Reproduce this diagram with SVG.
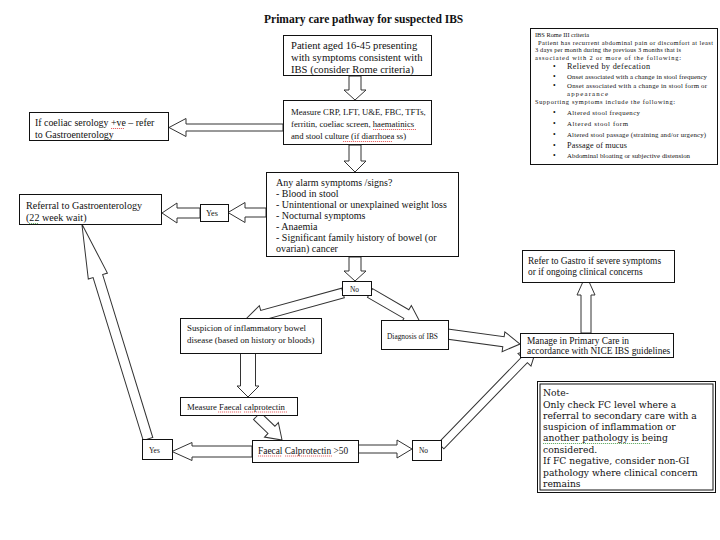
<svg xmlns="http://www.w3.org/2000/svg" width="720" height="540" viewBox="0 0 720 540">
<style>
text{font-family:"Liberation Serif","Times New Roman",serif;fill:#111;}
.title{font-size:11.5px;font-weight:bold;}
.b1{font-size:10.6px;}
.b2{font-size:8.7px;}
.b3{font-size:9.9px;}
.al{font-size:10px;}
.rf{font-size:10.1px;}
.t9{font-size:9.4px;}
.t89{font-size:8.9px;}
.t87{font-size:8.7px;}
.t8{font-size:8.2px;}
.t7{font-size:7.4px;}
.c6{font-size:6.4px;}
.c7{font-size:6.8px;}
.c8{font-size:8.2px;}
.bu{font-size:7.5px;}
.nt{font-family:"DejaVu Serif","Liberation Serif",serif;font-size:9.2px;}
.box{fill:#fff;stroke:#111;stroke-width:1;}
.edge{fill:none;stroke:#111;stroke-width:1;}
.arr{fill:#fff;stroke:#333;stroke-width:1;stroke-linejoin:miter;}
.sp{fill:none;stroke:#d22;stroke-width:0.7;stroke-dasharray:1.2 0.8;}
.sg{fill:none;stroke:#2a8a2a;stroke-width:0.7;stroke-dasharray:1.2 0.8;}
</style>
<rect width="720" height="540" fill="#fff"/>
<text class="title" x="264" y="23">Primary care pathway for suspected IBS</text>

<g id="connectors">
<path class="arr" transform="translate(355,76) rotate(90)" d="M0,-6 H14 V-11 L24,0 L14,11 V6 H0 Z"/>
<path class="arr" transform="translate(283,127.5) rotate(180)" d="M0,-3.5 H97 V-9 L114,0 L97,9 V3.5 H0 Z"/>
<path class="arr" transform="translate(355,145) rotate(90)" d="M0,-6 H16 V-11 L27,0 L16,11 V6 H0 Z"/>
<path class="arr" transform="translate(266,212.5) rotate(180)" d="M0,-4.5 H21 V-10 L38,0 L21,10 V4.5 H0 Z"/>
<path class="arr" transform="translate(200,213) rotate(180)" d="M0,-5 H23 V-10 L38,0 L23,10 V5 H0 Z"/>
<path class="arr" transform="translate(355,257) rotate(90)" d="M0,-6 H14 V-11 L24,0 L14,11 V6 H0 Z"/>
<path class="arr" transform="translate(343,293) rotate(164.6)" d="M0,-5 H84 V-10 L101.7,0 L84,10 V5 H0 Z"/>
<path class="arr" transform="translate(370,293) rotate(30.1)" d="M0,-5 H42 V-10 L57.8,0 L42,10 V5 H0 Z"/>
<path class="arr" transform="translate(447,334) rotate(7.8)" d="M0,-5 H57 V-10 L73.7,0 L57,10 V5 H0 Z"/>
<path class="arr" transform="translate(586,333) rotate(-90)" d="M0,-5 H38 V-9 L58,0 L38,9 V5 H0 Z"/>
<path class="arr" transform="translate(248,353) rotate(90)" d="M0,-7.5 H33 V-11 L44,0 L33,11 V7.5 H0 Z"/>
<path class="arr" transform="translate(257,416) rotate(43.8)" d="M0,-5 H20 V-10 L34.7,0 L20,10 V5 H0 Z"/>
<path class="arr" transform="translate(252,451.5) rotate(180)" d="M0,-5.5 H60 V-9 L80,0 L60,9 V5.5 H0 Z"/>
<path class="arr" transform="translate(358,449) rotate(0)" d="M0,-4 H39 V-9 L54,0 L39,9 V4 H0 Z"/>
<path class="arr" transform="translate(441,446) rotate(-45.9)" d="M0,-4 H120 V-9 L137.9,0 L120,9 V4 H0 Z"/>
<path class="arr" transform="translate(148,439) rotate(-107.1)" d="M0,-5 H170.5 V-10 L224.9,0 L170.5,10 V5 H0 Z"/>
</g>

<g id="patient">
<rect class="box" x="283.5" y="35.5" width="148" height="40"/>
<text class="b1" x="291" y="49">Patient aged 16-45 presenting</text>
<text class="b1" x="291" y="61">with symptoms consistent with</text>
<text class="b1" x="291" y="73">IBS (consider Rome criteria)</text>
</g>

<g id="criteria">
<rect class="box" x="530.5" y="28.5" width="187" height="136"/>
<text class="c6" x="535" y="37" textLength="54" lengthAdjust="spacing">IBS Rome III criteria</text>
<text class="c6" x="538" y="44.5" textLength="175" lengthAdjust="spacing">Patient has recurrent abdominal pain or discomfort at least</text>
<text class="c6" x="535" y="52" textLength="146" lengthAdjust="spacing">3 days per month during the previous 3 months that is</text>
<text class="c6" x="535" y="59.5" textLength="146" lengthAdjust="spacing">associated with 2 or more of the following:</text>
<text class="bu" x="553" y="69">•</text><text class="c8" x="567" y="69" textLength="83" lengthAdjust="spacing">Relieved by defecation</text>
<text class="bu" x="553" y="79">•</text><text class="c7" x="567" y="79" textLength="140" lengthAdjust="spacing">Onset associated with a change in stool frequency</text>
<text class="bu" x="553" y="88">•</text><text class="c7" x="567" y="88" textLength="140" lengthAdjust="spacing">Onset associated with a change in stool form or</text>
<text class="c7" x="567" y="96" textLength="41" lengthAdjust="spacing">appearance</text>
<text class="c6" x="535" y="104" textLength="140" lengthAdjust="spacing">Supporting symptoms include the following:</text>
<text class="bu" x="553" y="115">•</text><text class="c7" x="567" y="115" textLength="73" lengthAdjust="spacing">Altered stool frequency</text>
<text class="bu" x="553" y="126">•</text><text class="c7" x="567" y="126" textLength="61" lengthAdjust="spacing">Altered stool form</text>
<text class="bu" x="553" y="137">•</text><text class="c7" x="567" y="137" textLength="139" lengthAdjust="spacing">Altered stool passage (straining and/or urgency)</text>
<text class="bu" x="553" y="148">•</text><text class="c8" x="567" y="148" textLength="60" lengthAdjust="spacing">Passage of mucus</text>
<text class="bu" x="553" y="158">•</text><text class="c7" x="567" y="158" textLength="123" lengthAdjust="spacing">Abdominal bloating or subjective distension</text>
</g>

<g id="measure-bloods">
<rect class="box" x="283.5" y="100.5" width="148" height="44"/>
<text class="b2" x="291" y="115">Measure CRP, LFT, U&amp;E, FBC, TFTs,</text>
<text class="b2" x="291" y="127">ferritin, coeliac screen, haematinics</text>
<text class="b2" x="291" y="139">and stool culture (if diarrhoea ss)</text>
<path class="sp" d="M373,129.5 H416 M343,141.5 H392"/>
</g>

<g id="coeliac">
<rect class="box" x="29.5" y="112.5" width="139" height="28"/>
<text class="b3" x="35" y="126">If coeliac serology +ve – refer</text>
<text class="b3" x="35" y="138">to Gastroenterology</text>
<path class="sp" d="M111,128.5 H124"/>
</g>

<g id="alarm">
<rect class="box" x="266.5" y="172.5" width="192" height="84"/>
<text class="al" x="276" y="186">Any alarm symptoms /signs?</text>
<text class="al" x="276" y="197">- Blood in stool</text>
<text class="al" x="276" y="208">- Unintentional or unexplained weight loss</text>
<text class="al" x="276" y="219">- Nocturnal symptoms</text>
<text class="al" x="276" y="230">- Anaemia</text>
<text class="al" x="276" y="241">- Significant family history of bowel (or</text>
<text class="al" x="276" y="252">ovarian) cancer</text>
</g>

<g id="yes1">
<rect class="box" x="200.5" y="204.5" width="28" height="17"/>
<text class="t8" x="206" y="216">Yes</text>
</g>

<g id="referral">
<rect class="box" x="19.5" y="194.5" width="142" height="30"/>
<text class="rf" x="26" y="209">Referral to Gastroenterology</text>
<text class="rf" x="26" y="221">(22 week wait)</text>
<path class="sg" d="M29,223.5 H38"/>
</g>

<g id="no1">
<rect class="box" x="342.5" y="281.5" width="29" height="14"/>
<text class="t7" x="350" y="292">No</text>
</g>

<g id="refer-gastro">
<rect class="box" x="522.5" y="250.5" width="152" height="32"/>
<text class="t9" x="528" y="264">Refer to Gastro if severe symptoms</text>
<text class="t9" x="528" y="275">or if ongoing clinical concerns</text>
</g>

<g id="suspicion">
<rect class="box" x="180.5" y="318.5" width="141" height="35"/>
<text class="t89" x="187" y="331">Suspicion of inflammatory bowel</text>
<text class="t89" x="187" y="343">disease (based on history or bloods)</text>
</g>

<g id="diagnosis">
<rect class="box" x="381.5" y="320.5" width="67" height="29"/>
<text class="t7" x="387" y="339">Diagnosis of IBS</text>
</g>

<g id="manage">
<rect class="box" x="520.5" y="333.5" width="153" height="24"/>
<text class="t9" x="527" y="344">Manage in Primary Care in</text>
<text class="t9" x="527" y="354">accordance with NICE IBS guidelines</text>
</g>

<g id="measure-fc">
<rect class="box" x="180.5" y="397.5" width="117" height="18"/>
<text class="t87" x="187" y="410">Measure Faecal calprotectin</text>
<path class="sp" d="M218,412 H241 M244,412 H287"/>
</g>

<g id="fc50">
<rect class="box" x="252.5" y="440.5" width="106" height="22"/>
<text class="t9" x="258" y="454">Faecal Calprotectin &gt;50</text>
<path class="sp" d="M258,456 H282 M285,456 H332"/>
</g>

<g id="yes2">
<rect class="box" x="142.5" y="439.5" width="30" height="20"/>
<text class="t7" x="149" y="453">Yes</text>
</g>

<g id="no2">
<rect class="box" x="412.5" y="440.5" width="29" height="20"/>
<text class="t7" x="419" y="453">No</text>
</g>

<g id="note">
<rect class="box" x="537.5" y="381.5" width="178" height="111"/>
<rect class="edge" x="540" y="384" width="173" height="106"/>
<text class="nt" x="543" y="396">Note-</text>
<text class="nt" x="543" y="408">Only check FC level where a</text>
<text class="nt" x="543" y="419">referral to secondary care with a</text>
<text class="nt" x="543" y="430">suspicion of inflammation or</text>
<text class="nt" x="543" y="441">another pathology is being</text>
<text class="nt" x="543" y="453">considered.</text>
<text class="nt" x="543" y="464">If FC negative, consider non-GI</text>
<text class="nt" x="543" y="476">pathology where clinical concern</text>
<text class="nt" x="543" y="487">remains</text>
<path class="sg" d="M543,443.5 H650"/>
</g>
</svg>
